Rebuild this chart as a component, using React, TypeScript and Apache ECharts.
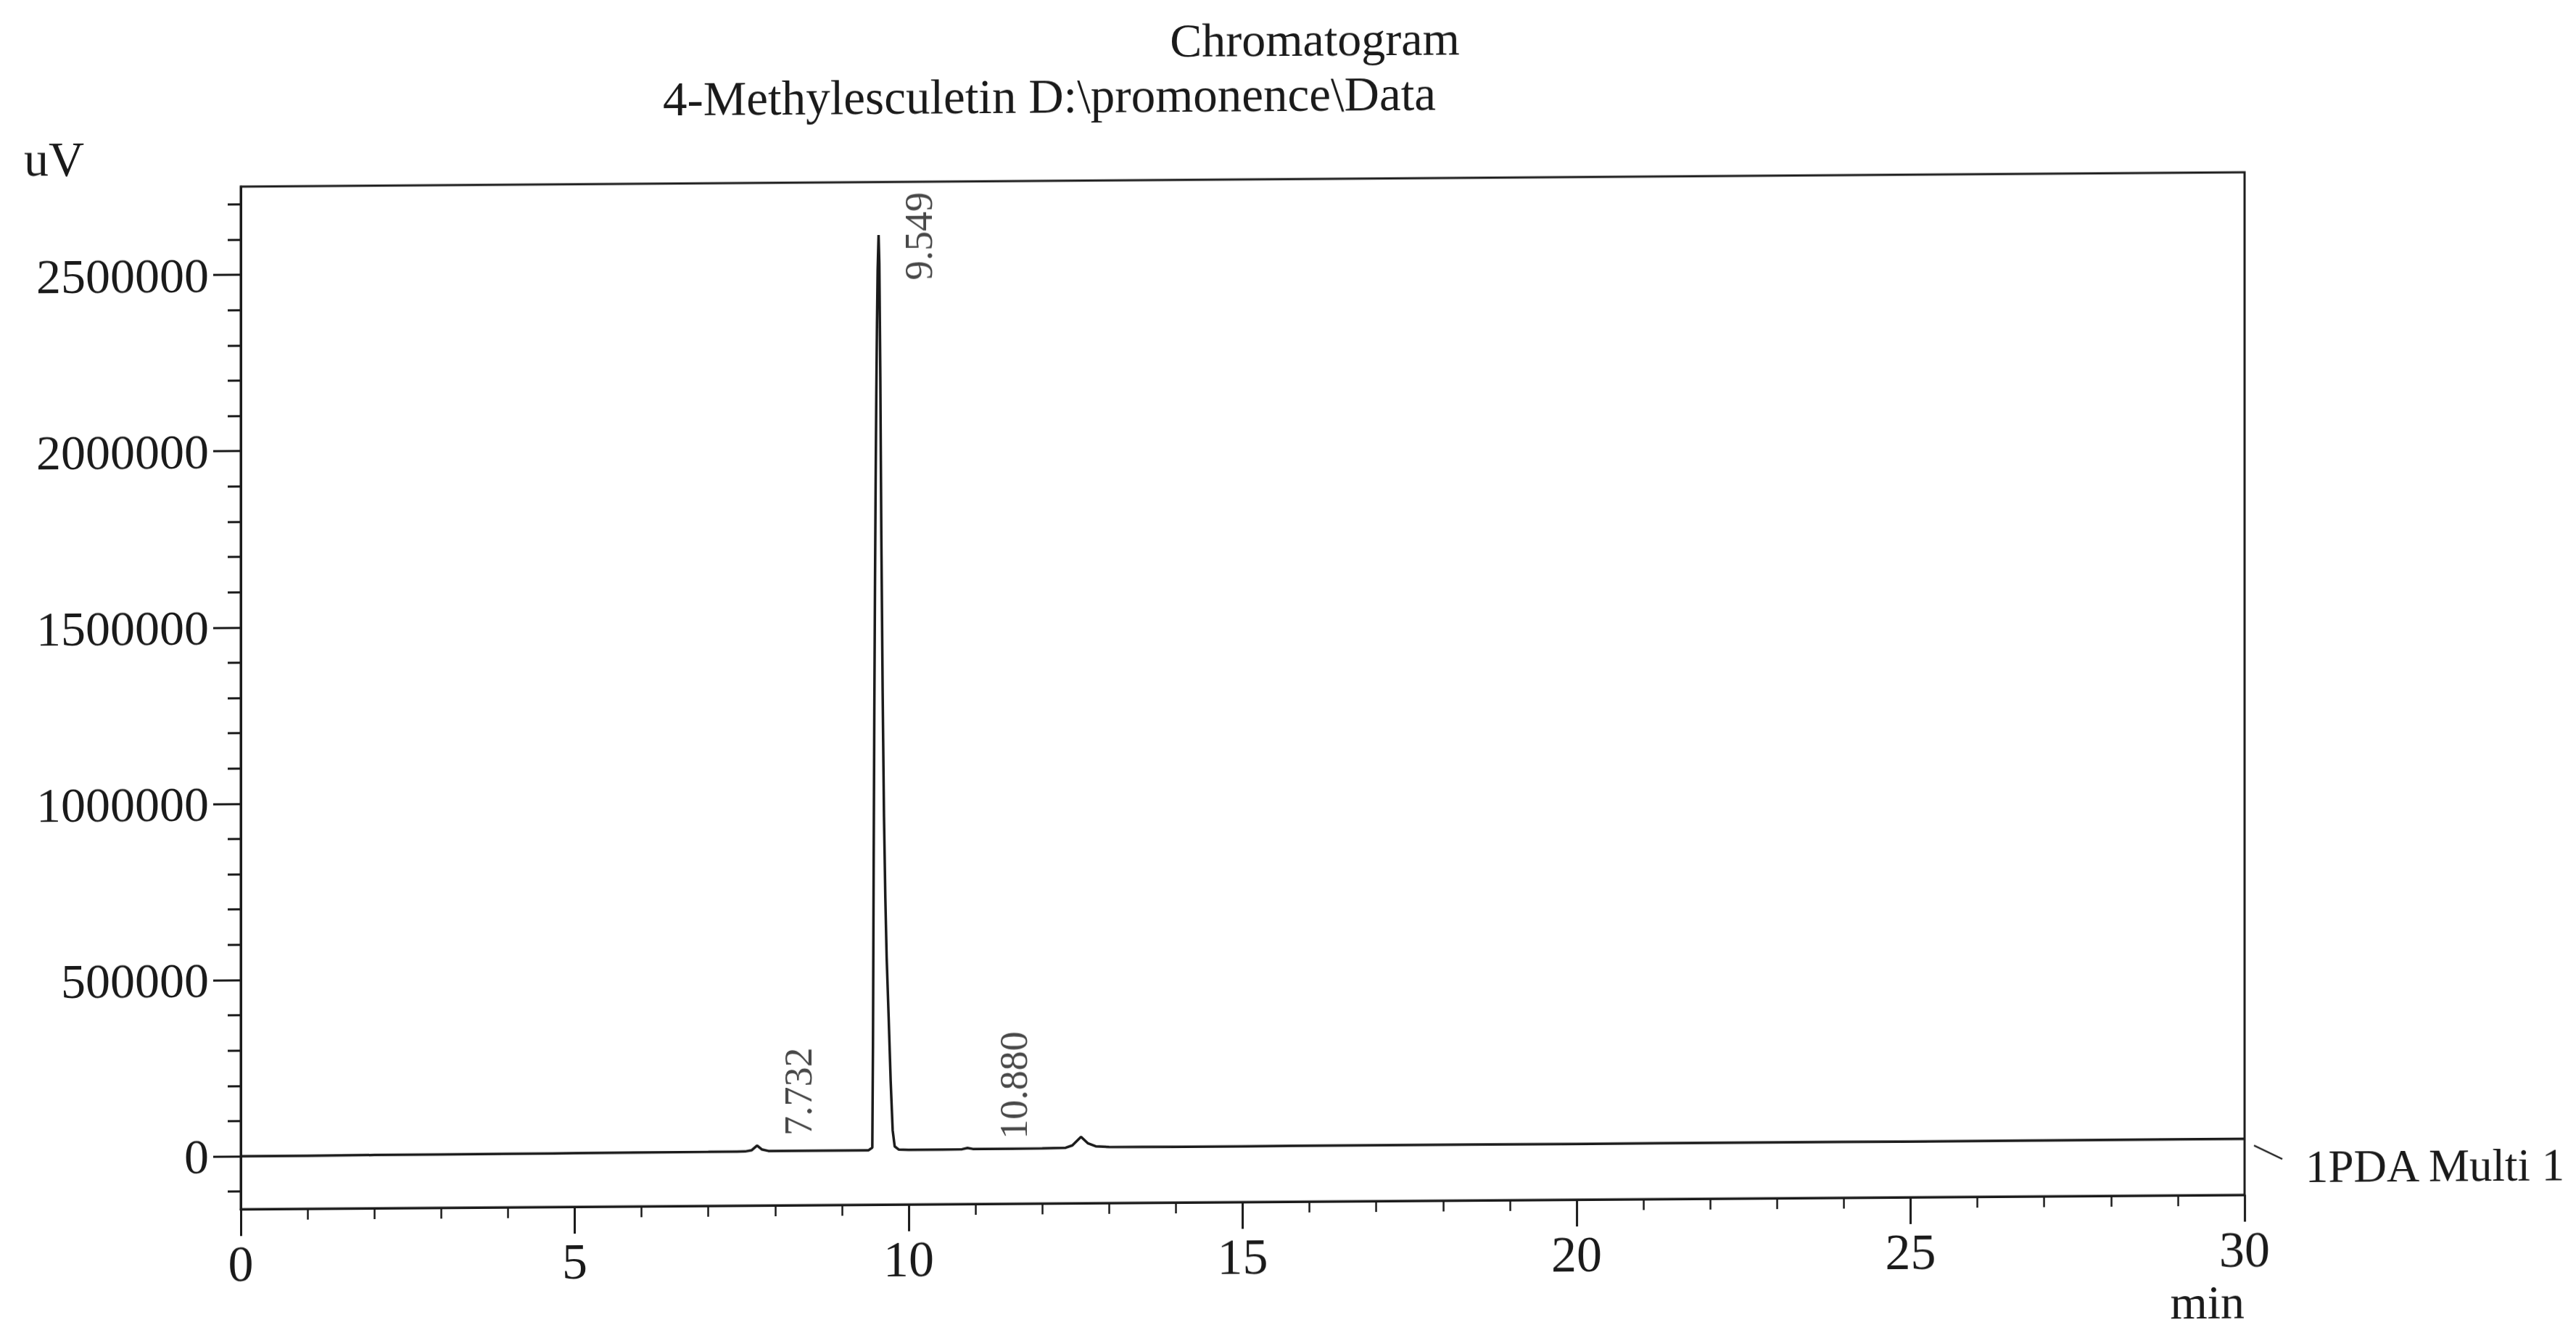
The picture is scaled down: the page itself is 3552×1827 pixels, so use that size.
import React, { useEffect, useRef } from "react";
import * as echarts from "echarts";

// ---- data ----
const retentionTimes = [
  0, 1, 2, 3, 4, 5, 6, 7, 7.55, 7.65, 7.73, 7.8, 7.9, 8.5, 9.0, 9.4,
  9.455, 9.465, 9.475, 9.485, 9.495, 9.505, 9.515, 9.525, 9.535, 9.549,
  9.56, 9.575, 9.59, 9.61, 9.63, 9.65, 9.67, 9.7, 9.73, 9.76, 9.79, 9.85,
  10.0, 10.5, 10.8, 10.88, 10.96, 11.5, 12.0, 12.35, 12.45, 12.58, 12.68,
  12.8, 13.0, 14, 15, 17, 20, 22, 25, 27, 29, 30,
];
const signal = [
  0, 0, 1000, 1000, 1500, 2000, 2500, 3000, 3500, 7000, 20000, 9000, 4500,
  4000, 4000, 4500, 12000, 300000, 800000, 1250000, 1600000, 1900000,
  2150000, 2350000, 2500000, 2600000, 2520000, 2200000, 1750000, 1300000,
  950000, 720000, 550000, 380000, 200000, 60000, 15000, 6000, 5000, 5000,
  5500, 9000, 6000, 6000, 6500, 7500, 14000, 38000, 20000, 11000, 9000,
  8000, 8000, 8500, 8000, 8500, 8000, 8500, 9000, 9000,
];
const peakTimes = [7.732, 9.549, 10.88];
const peakHeights = [20000, 2600000, 9000];
const peakLabels = ["7.732", "9.549", "10.880"];
const yMajorTicks = [0, 500000, 1000000, 1500000, 2000000, 2500000];
const yMinorTicks = [
  -100000, 100000, 200000, 300000, 400000, 600000, 700000, 800000, 900000,
  1100000, 1200000, 1300000, 1400000, 1600000, 1700000, 1800000, 1900000,
  2100000, 2200000, 2300000, 2400000, 2600000, 2700000,
];
const titleText = "Chromatogram";
const subtitleText = "4-Methylesculetin D:\\promonence\\Data";
const yUnit = "uV";
const xUnit = "min";
const channelName = "1PDA Multi 1";

const INK = "#1a1a1a";
const FONT = "'Liberation Serif', 'Times New Roman', serif";

export default function App() {
  const ref = useRef<HTMLDivElement>(null);

  useEffect(() => {
    if (!ref.current) return;
    const chart = echarts.init(ref.current, undefined, { renderer: "svg" });

    // label displacement (dx, dy) in px from the peak apex, expressed as a rotated offset
    const labelShift = [
      [57, -74],
      [56, 2],
      [64, -86],
    ];

    chart.setOption({
      animation: false,
      backgroundColor: "#ffffff",
      grid: {
        left: 332,
        right: 457,
        top: 247,
        bottom: 203,
        show: true,
        borderColor: INK,
        borderWidth: 3,
        backgroundColor: "transparent",
      },
      xAxis: {
        type: "value",
        min: 0,
        max: 30,
        interval: 5,
        axisLine: { show: true, onZero: false, lineStyle: { color: INK, width: 3 } },
        axisTick: { show: true, length: 37, lineStyle: { color: INK, width: 3 } },
        minorTick: { show: true, splitNumber: 5, length: 15, lineStyle: { color: INK, width: 2.5 } },
        axisLabel: { color: INK, fontFamily: FONT, fontSize: 70, margin: 40 },
        splitLine: { show: false },
        minorSplitLine: { show: false },
      },
      yAxis: [
        {
          type: "value",
          min: -150000,
          max: 2750000,
          axisLine: { show: true, onZero: false, lineStyle: { color: INK, width: 3 } },
          axisTick: {
            show: true,
            length: 38,
            customValues: yMajorTicks,
            lineStyle: { color: INK, width: 3 },
          },
          axisLabel: {
            color: INK,
            fontFamily: FONT,
            fontSize: 68,
            margin: 44,
            customValues: yMajorTicks,
            formatter: (v: number) => String(Math.round(v)),
          },
          splitLine: { show: false },
        },
        {
          type: "value",
          min: -150000,
          max: 2750000,
          position: "left",
          axisLine: { show: false },
          axisTick: {
            show: true,
            length: 18,
            customValues: yMinorTicks,
            lineStyle: { color: INK, width: 3 },
          },
          axisLabel: { show: false },
          splitLine: { show: false },
        },
      ],
      series: [
        {
          type: "line",
          data: retentionTimes.map((t, i) => [t, signal[i]]),
          showSymbol: false,
          symbol: "none",
          lineStyle: { color: INK, width: 3.5 },
          z: 3,
        },
        {
          type: "scatter",
          symbolSize: 0,
          data: peakTimes.map((t, i) => ({
            value: [t, peakHeights[i]],
            name: peakLabels[i],
            label: { offset: [-labelShift[i][1], labelShift[i][0]] },
          })),
          label: {
            show: true,
            position: "inside",
            rotate: 90,
            align: "center",
            verticalAlign: "middle",
            formatter: (p: any) => p.name,
            color: INK,
            fontFamily: FONT,
            fontSize: 54,
          },
          z: 4,
        },
      ],
      graphic: [
        {
          type: "text",
          x: 1813,
          y: 55,
          style: {
            text: titleText,
            fill: INK,
            fontFamily: FONT,
            fontSize: 66,
            textAlign: "center",
            textVerticalAlign: "middle",
          },
        },
        {
          type: "text",
          x: 1447,
          y: 130,
          style: {
            text: subtitleText,
            fill: INK,
            fontFamily: FONT,
            fontSize: 67,
            textAlign: "center",
            textVerticalAlign: "middle",
          },
        },
        {
          type: "text",
          x: 33,
          y: 207,
          style: {
            text: yUnit,
            fill: INK,
            fontFamily: FONT,
            fontSize: 68,
            textAlign: "left",
            textVerticalAlign: "middle",
          },
        },
        {
          type: "text",
          x: 3095,
          y: 1805,
          style: {
            text: xUnit,
            fill: INK,
            fontFamily: FONT,
            fontSize: 66,
            textAlign: "right",
            textVerticalAlign: "middle",
          },
        },
        {
          type: "text",
          x: 3179,
          y: 1619,
          style: {
            text: channelName,
            fill: INK,
            fontFamily: FONT,
            fontSize: 63,
            textAlign: "left",
            textVerticalAlign: "middle",
          },
        },
        {
          type: "line",
          shape: { x1: 3108, y1: 1589, x2: 3147, y2: 1608 },
          style: { stroke: INK, lineWidth: 2.5 },
        },
      ],
    });

    return () => chart.dispose();
  }, []);

  return (
    <div
      ref={ref}
      style={{
        position: "fixed",
        left: 0,
        top: 0,
        width: 3552,
        height: 1860,
        background: "#ffffff",
        transform: "skewY(-0.41deg)",
        transformOrigin: "1776px 913px",
      }}
    />
  );
}
